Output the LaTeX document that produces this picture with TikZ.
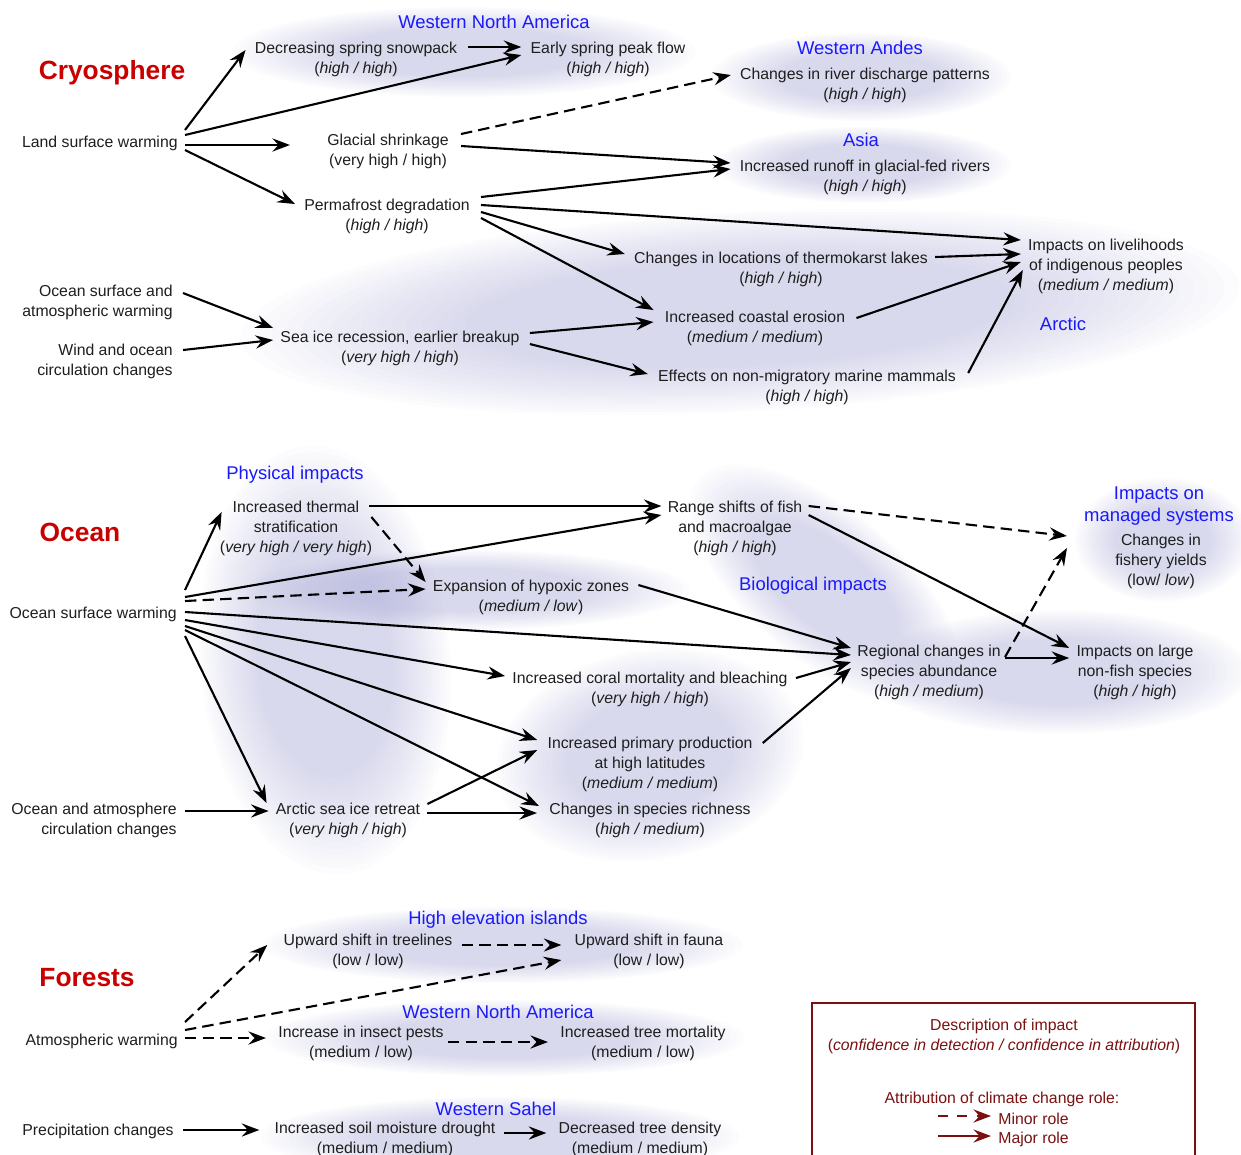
\documentclass[tikz,border=0pt]{standalone}
\usepackage{fontspec}
\setmainfont{Liberation Sans}
\usetikzlibrary{arrows.meta,calc}

\definecolor{txtcol}{RGB}{30,30,30}
\definecolor{regcol}{RGB}{25,25,250}
\definecolor{titlecol}{RGB}{200,0,0}
\definecolor{legcol}{RGB}{122,16,16}
\definecolor{blobcol}{RGB}{150,150,205}

\newcommand{\conf}[1]{(\textit{#1})}
\newcommand{\blob}[5][0]{%
  \begin{scope}[shift={(#2,#3)},rotate=#1]
    \foreach \k in {0,...,15}
      \fill[blobcol,fill opacity=0.026] (0,0) ellipse [x radius={#4*(1-0.03*\k)},y radius={#5*(1-0.03*\k)}];
  \end{scope}}

\tikzset{
  box/.style={align=center,text=txtcol,font=\fontsize{9}{11.4}\selectfont,inner xsep=4pt,inner ysep=1pt},
  region/.style={align=center,text=regcol,font=\fontsize{10.5}{13}\selectfont,inner sep=1pt},
  title/.style={text=titlecol,font=\fontsize{15}{18}\selectfont\bfseries},
  major/.style={draw=black,line width=1.2pt,-{Stealth[length=10pt,width=7.5pt,inset=3.5pt]}},
  minor/.style={major,dash pattern=on 6.5pt off 3.5pt},
}

\begin{document}
\begin{tikzpicture}[x=0.02cm,y=-0.02cm]
\useasboundingbox (0,0) rectangle (1241,1154);
\clip (0,0) rectangle (1241,1154);

% BLOBS
\blob{464}{52}{232}{45}
\blob{861}{77}{150}{44}
\blob{863}{165}{148}{38}
\blob[3]{740}{312}{500}{100}
\blob[5]{325}{660}{125}{215}
\blob{468}{590}{222}{40}
\blob[-40]{825}{585}{165}{75}
\blob[10]{650}{755}{155}{105}
\blob{1060}{672}{190}{62}
\blob{1163}{540}{88}{62}
\blob{503}{945}{240}{38}
\blob{505}{1038}{240}{38}
\blob{500}{1137}{240}{40}

% CRYOSPHERE
\node[title] (cryo) at (112,73) {Cryosphere};
\node[region] (wna) at (494,22) {Western North America};
\node[region] (andes) at (860,48) {Western Andes};
\node[region] (asia) at (861,140) {Asia};
\node[region] (arctic) at (1063,324) {Arctic};
\node[box,anchor=east] (landwarm) at (185,143) {Land surface warming};
\node[box] (snowpack) at (356,59) {Decreasing spring snowpack\\\conf{high / high}};
\node[box] (peakflow) at (608,59) {Early spring peak flow\\\conf{high / high}};
\node[box] (discharge) at (865,85) {Changes in river discharge patterns\\\conf{high / high}};
\node[box] (glacier) at (388,151) {Glacial shrinkage\\(very high / high)};
\node[box] (runoff) at (865,177) {Increased runoff in glacial-fed rivers\\\conf{high / high}};
\node[box] (permafrost) at (387,216) {Permafrost degradation\\\conf{high / high}};
\node[box] (thermokarst) at (781,269) {Changes in locations of thermokarst lakes\\\conf{high / high}};
\node[box] (livelihood) at (1106,266) {Impacts on livelihoods\\of indigenous peoples\\\conf{medium / medium}};
\node[box,anchor=east,align=right] (oceanatm) at (180,302) {Ocean surface and\\atmospheric warming};
\node[box,anchor=east,align=right] (windcirc) at (180,361) {Wind and ocean\\circulation changes};
\node[box] (seaice) at (400,348) {Sea ice recession, earlier breakup\\\conf{very high / high}};
\node[box] (erosion) at (755,328) {Increased coastal erosion\\\conf{medium / medium}};
\node[box] (mammals) at (807,387) {Effects on non-migratory marine mammals\\\conf{high / high}};

\draw[major] ($(landwarm.east)+(0,-13)$) -- ($(snowpack.west)+(-2,-9)$);
\draw[major] ($(landwarm.east)+(0,-8)$) -- ($(peakflow.west)+(-2,-4)$);
\draw[major] ($(landwarm.east)+(0,2)$) -- ($(glacier.west)+(-30,-6)$);
\draw[major] ($(landwarm.east)+(0,7)$) -- ($(permafrost.west)+(-2,-12)$);
\draw[major] ($(snowpack.east)+(4,-12)$) -- ($(peakflow.west)+(-2,-12)$);
\draw[minor] ($(glacier.east)+(5,-17)$) -- ($(discharge.west)+(-2,-10)$);
\draw[major] ($(glacier.east)+(5,-5)$) -- ($(runoff.west)+(-2,-14)$);
\draw[major] ($(permafrost.east)+(4,-19)$) -- ($(runoff.west)+(-2,-8)$);
\draw[major] ($(permafrost.east)+(4,-11)$) -- ($(livelihood.west)+(0,-26)$);
\draw[major] ($(permafrost.east)+(4,-4)$) -- ($(thermokarst.west)+(-2,-15)$);
\draw[major] ($(permafrost.east)+(4,2)$) -- ($(erosion.west)+(-4,-18)$);
\draw[major] ($(thermokarst.east)+(0,-12)$) -- ($(livelihood.west)+(0,-12)$);
\draw[major] ($(seaice.east)+(3,-15)$) -- ($(erosion.west)+(-4,-6)$);
\draw[major] ($(seaice.east)+(3,-4)$) -- ($(mammals.west)+(-3,-13)$);
\draw[major] ($(erosion.east)+(4,-10)$) -- ($(livelihood.west)+(0,-4)$);
\draw[major] ($(mammals.east)+(5,-14)$) -- ($(livelihood.west)+(2,4)$);
\draw[major] ($(oceanatm.east)+(3,-9)$) -- ($(seaice.west)+(0,-20)$);
\draw[major] ($(windcirc.east)+(3,-11)$) -- ($(seaice.west)+(0,-8)$);

% OCEAN
\node[title] (ocean) at (80,532) {Ocean};
\node[region] (physical) at (295,475) {Physical impacts};
\node[region] (biological) at (813,586) {Biological impacts};
\node[region] (managed) at (1159,506) {Impacts on\\managed systems};
\node[box,anchor=east] (oceanwarm) at (184,614) {Ocean surface warming};
\node[box] (stratif) at (296,528) {Increased thermal\\stratification\\\conf{very high / very high}};
\node[box] (rangeshift) at (735,528) {Range shifts of fish\\and macroalgae\\\conf{high / high}};
\node[box] (fishery) at (1161,561) {Changes in\\fishery yields\\(low/ \textit{low})};
\node[box] (hypoxic) at (531,597) {Expansion of hypoxic zones\\\conf{medium / low}};
\node[box] (abundance) at (929,672) {Regional changes in\\species abundance\\\conf{high / medium}};
\node[box] (largesp) at (1135,672) {Impacts on large\\non-fish species\\\conf{high / high}};
\node[box] (coral) at (650,689) {Increased coral mortality and bleaching\\\conf{very high / high}};
\node[box] (primprod) at (650,764) {Increased primary production\\at high latitudes\\\conf{medium / medium}};
\node[box] (richness) at (650,820) {Changes in species richness\\\conf{high / medium}};
\node[box,anchor=east,align=right] (circ) at (184,820) {Ocean and atmosphere\\circulation changes};
\node[box] (iceretreat) at (348,820) {Arctic sea ice retreat\\\conf{very high / high}};

\draw[major] ($(oceanwarm.east)+(1,-24)$) -- ($(stratif.west)+(9,-16)$);
\draw[major] ($(oceanwarm.east)+(1,-17)$) -- ($(rangeshift.west)+(1,-13)$);
\draw[minor] ($(oceanwarm.east)+(1,-13)$) -- ($(hypoxic.west)+(0,-8)$);
\draw[major] ($(oceanwarm.east)+(1,-2)$) -- ($(abundance.west)+(1,-17)$);
\draw[major] ($(oceanwarm.east)+(1,6)$) -- ($(coral.west)+(0,-13)$);
\draw[major] ($(oceanwarm.east)+(1,12)$) -- ($(primprod.west)+(-3,-24)$);
\draw[major] ($(oceanwarm.east)+(1,16)$) -- ($(richness.west)+(-3,-14)$);
\draw[major] ($(oceanwarm.east)+(1,22)$) -- ($(iceretreat.west)+(-2,-17)$);
\draw[major] ($(stratif.east)+(-10,-22)$) -- ($(rangeshift.west)+(1,-22)$);
\draw[minor] ($(stratif.east)+(-8,-11)$) -- ($(hypoxic.west)+(0,-15)$);
\draw[minor] ($(rangeshift.east)+(-1,-22)$) -- ($(fishery.west)+(-41,-25)$);
\draw[major] ($(rangeshift.east)+(-1,-13)$) -- ($(largesp.west)+(0,-24)$);
\draw[major] ($(hypoxic.east)+(2,-12)$) -- ($(abundance.west)+(1,-24)$);
\draw[major] ($(coral.east)+(1,-11)$) -- ($(abundance.west)+(1,-10)$);
\draw[major] ($(primprod.east)+(3,-21)$) -- ($(abundance.west)+(1,-4)$);
\draw[minor] ($(abundance.east)+(-3,-15)$) -- ($(fishery.west)+(-41,-13)$);
\draw[major] ($(abundance.east)+(-3,-14)$) -- ($(largesp.west)+(0,-14)$);
\draw[major] ($(circ.east)+(1,-9)$) -- ($(iceretreat.west)+(0,-9)$);
\draw[major] ($(iceretreat.east)+(0,-16)$) -- ($(primprod.west)+(-3,-14)$);
\draw[major] ($(iceretreat.east)+(0,-7)$) -- ($(richness.west)+(-5,-7)$);

% FORESTS
\node[title] (forests) at (87,978) {Forests};
\node[region] (islands) at (498,920) {High elevation islands};
\node[region] (wnaforest) at (498,1012) {Western North America};
\node[region] (sahel) at (496,1109) {Western Sahel};
\node[box] (treeline) at (368,951) {Upward shift in treelines\\(low / low)};
\node[box] (fauna) at (649,951) {Upward shift in fauna\\(low / low)};
\node[box] (pests) at (361,1043) {Increase in insect pests\\(medium / low)};
\node[box] (mortality) at (643,1043) {Increased tree mortality\\(medium / low)};
\node[box] (drought) at (385,1139) {Increased soil moisture drought\\(medium / medium)};
\node[box] (density) at (640,1139) {Decreased tree density\\(medium / medium)};
\node[box,anchor=east] (atmwarm) at (185,1041) {Atmospheric warming};
\node[box,anchor=east] (precip) at (181,1131) {Precipitation changes};

\draw[minor] ($(atmwarm.east)+(0,-19)$) -- ($(treeline.west)+(-9,-6)$);
\draw[minor] ($(atmwarm.east)+(0,-11)$) -- ($(fauna.west)+(-6,9)$);
\draw[minor] ($(atmwarm.east)+(0,-3)$) -- ($(pests.west)+(-5,-5)$);
\draw[minor] ($(treeline.east)+(2,-6)$) -- ($(fauna.west)+(-6,-6)$);
\draw[minor] ($(pests.east)+(-3,-1)$) -- ($(mortality.west)+(-5,-1)$);
\draw[major] ($(precip.east)+(2,-1)$) -- ($(drought.west)+(-8,-9)$);
\draw[major] ($(drought.east)+(1,-6)$) -- ($(density.west)+(-5,-6)$);

% LEGEND
\draw[legcol,line width=1.2pt] (812,1003) rectangle (1195,1170);
\node[box,text=legcol] (legdesc) at (1004,1036) {Description of impact\\(\textit{confidence in detection / confidence in attribution})};
\node[box,text=legcol] (legrole) at (1002,1099) {Attribution of climate change role:};
\node[box,text=legcol,anchor=west] (legminor) at (991,1119) {Minor role};
\node[box,text=legcol,anchor=west] (legmajor) at (991,1139) {Major role};
\coordinate (minorstart) at (938,1116);
\coordinate (majorstart) at (938,1136);
\draw[minor,draw=legcol,dash pattern=on 5.5pt off 5.5pt] (minorstart) -- ($(legminor.west)+(0,-3)$);
\draw[major,draw=legcol] (majorstart) -- ($(legmajor.west)+(0,-3)$);
\end{tikzpicture}
\end{document}
